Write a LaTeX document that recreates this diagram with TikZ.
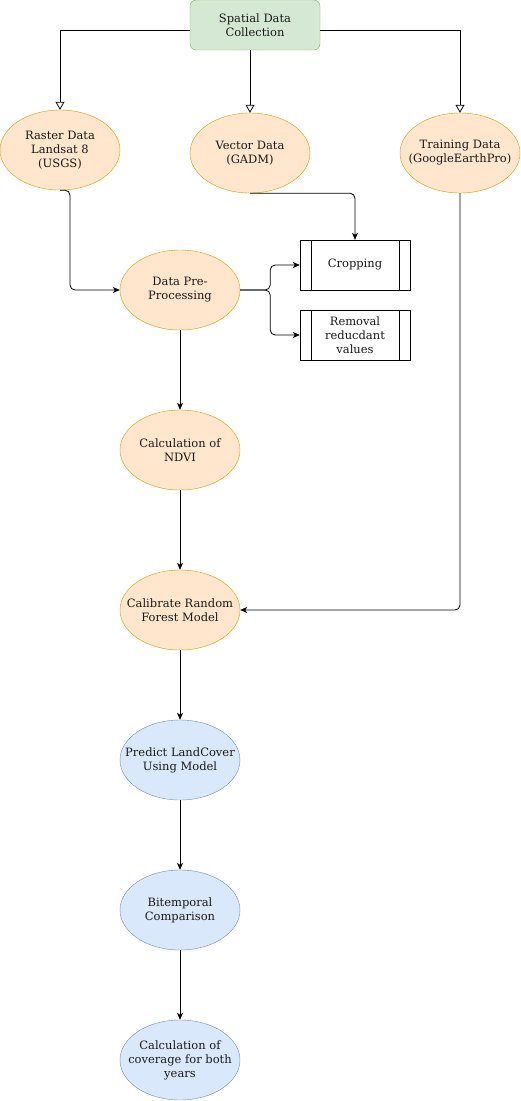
\documentclass[tikz,border=0pt]{standalone}
\usepackage{fontspec}
\setmainfont{DejaVu Serif}
\usetikzlibrary{shapes.geometric,arrows.meta}
\definecolor{gfill}{HTML}{D5E8D4}
\definecolor{gline}{HTML}{82B366}
\definecolor{ofill}{HTML}{FFE6CC}
\definecolor{oline}{HTML}{D79B00}
\definecolor{bfill}{HTML}{DAE8FC}
\definecolor{bline}{HTML}{6C8EBF}
\tikzset{
  txt/.style={font=\fontsize{11.5}{14}\selectfont, align=center, text=black!90},
  ellbase/.style={txt, ellipse, minimum width=120pt, minimum height=80pt, inner xsep=-40pt, inner ysep=-15pt},
  oell/.style={ellbase, draw=oline, fill=ofill},
  bell/.style={ellbase, draw=bline, fill=bfill},
  gbox/.style={txt, rectangle, rounded corners=6pt, draw=gline, fill=gfill, minimum width=130pt, minimum height=50pt, inner sep=0pt},
  pbox/.style={txt, rectangle, draw=black, fill=white, minimum width=110pt, minimum height=50pt, inner sep=0pt},
  conn/.style={draw=black, line width=0.8pt, rounded corners=5pt, -{Stealth[length=7pt,width=6pt,inset=2pt]}},
  oconn/.style={draw=black, line width=0.8pt, -{Triangle[open,length=8pt,width=9pt]}},
}
\begin{document}
\begin{tikzpicture}[x=1pt,y=-1pt]
\useasboundingbox (0,0) rectangle (521,1101);
\node[gbox] (sdc) at (255,25) {Spatial Data\\Collection};
\node[oell] (ras) at (60,150) {Raster Data\\Landsat 8\\(USGS)};
\node[oell] (vec) at (250,153) {Vector Data\\(GADM)};
\node[oell] (trn) at (460,153) {Training Data\\(GoogleEarthPro)};
\node[oell] (pre) at (180,290) {Data Pre-\\Processing};
\node[pbox] (crop) at (355,265) {Cropping};
\node[pbox] (rem) at (355,335) {Removal\\reducdant\\values};
\draw (crop.north west) ++(11,0) -- ++(0,50);
\draw (crop.north east) ++(-11,0) -- ++(0,50);
\draw (rem.north west) ++(11,0) -- ++(0,50);
\draw (rem.north east) ++(-11,0) -- ++(0,50);
\node[oell] (ndvi) at (180,450) {Calculation of\\NDVI};
\node[oell] (cal) at (180,610) {Calibrate Random\\Forest Model};
\node[bell] (pred) at (180,760) {Predict LandCover\\Using Model};
\node[bell] (bit) at (180,910) {Bitemporal\\Comparison};
\node[bell] (cov) at (180,1060) {Calculation of\\coverage for both\\years};

\draw[oconn] ([yshift=-5pt]sdc.west) -| (ras.north);
\draw[oconn] ([xshift=-5pt]sdc.south) -- (vec.north);
\draw[oconn] ([yshift=-5pt]sdc.east) -| (trn.north);
\draw[conn] (ras.south) -- ++(10,0) |- (pre.west);
\draw[conn] (vec.south) -| (crop.north);
\draw[conn] (pre.east) -- ++(30,0) |- (crop.west);
\draw[conn] (pre.east) -- ++(30,0) |- (rem.west);
\draw[conn] (pre.south) -- (ndvi.north);
\draw[conn] (ndvi.south) -- (cal.north);
\draw[conn] (trn.south) |- (cal.east);
\draw[conn] (cal.south) -- (pred.north);
\draw[conn] (pred.south) -- (bit.north);
\draw[conn] (bit.south) -- (cov.north);
\end{tikzpicture}
\end{document}
